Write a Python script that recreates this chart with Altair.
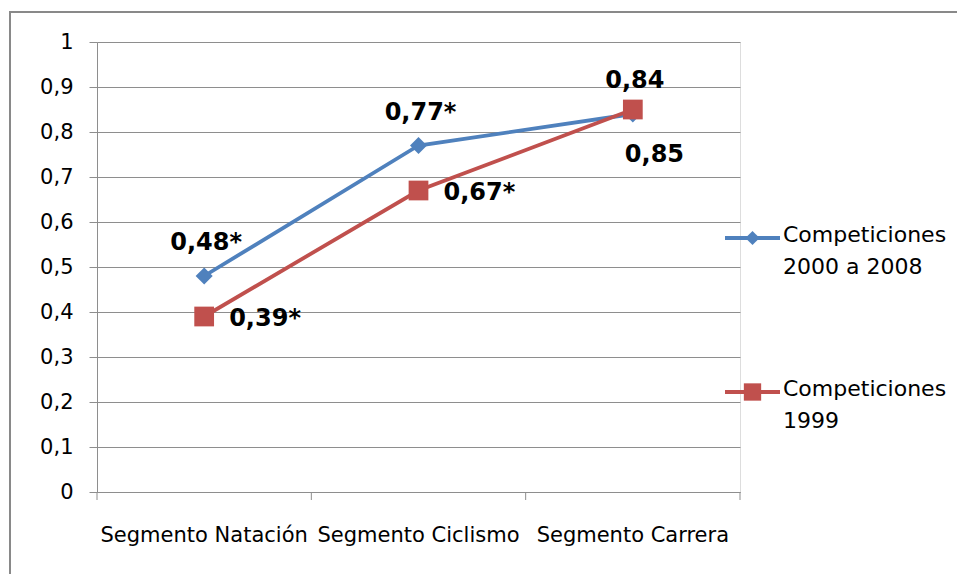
import altair as alt
import pandas as pd

categories = ["Segmento Natación", "Segmento Ciclismo", "Segmento Carrera"]
series_names = ["Competiciones 2000 a 2008", "Competiciones 1999"]
values_2000_2008 = [0.48, 0.77, 0.84]
values_1999 = [0.39, 0.67, 0.85]
labels_2000_2008 = ["0,48*", "0,77*", "0,84"]
labels_1999 = ["0,39*", "0,67*", "0,85"]
legend_lines = [["Competiciones", "2000 a 2008"], ["Competiciones", "1999"]]
y_ticks = [0, 0.1, 0.2, 0.3, 0.4, 0.5, 0.6, 0.7, 0.8, 0.9, 1]

BLUE = "#4F81BD"
RED = "#C0504D"
GRID = "#8E8E8E"
FONT = "DejaVu Sans"
W, H = 643, 450

df_a = pd.DataFrame({"cat": categories, "value": values_2000_2008, "label": labels_2000_2008})
df_b = pd.DataFrame({"cat": categories, "value": values_1999, "label": labels_1999})
one = pd.DataFrame({"k": [0]})

xscale = alt.Scale(domain=categories, paddingInner=0, paddingOuter=0)
yscale = alt.Scale(domain=[0, 1], nice=False, zero=True)

x_axis = alt.Axis(title=None, labelAngle=0, ticks=False, labelPadding=32,
                  labelFontSize=21, labelFont=FONT, labelColor="#000000",
                  domainColor=GRID, domainWidth=1, labelLimit=300)
y_axis = alt.Axis(title=None, values=y_ticks, grid=True, gridColor=GRID, gridWidth=1,
                  domainColor=GRID, tickColor=GRID, tickSize=8, labelPadding=16,
                  labelFontSize=21, labelFont=FONT, labelColor="#000000",
                  labelExpr="replace(format(datum.value, '.1~f'), '.', ',')")


def xe(**kw):
    return alt.X("cat:N", scale=xscale, sort=categories, axis=x_axis, **kw)


def ye():
    return alt.Y("value:Q", scale=yscale, axis=y_axis)


line_a = alt.Chart(df_a).mark_line(color=BLUE, strokeWidth=3.8).encode(x=xe(), y=ye())
pts_a = alt.Chart(df_a).mark_point(shape="diamond", filled=True, size=290, color=BLUE, opacity=1).encode(x=xe(), y=ye())
line_b = alt.Chart(df_b).mark_line(color=RED, strokeWidth=3.8).encode(x=xe(), y=ye())
pts_b = alt.Chart(df_b).mark_point(shape="square", filled=True, size=390, color=RED, opacity=1).encode(x=xe(), y=ye())

lab_style = dict(font=FONT, fontWeight="bold", fontSize=24, color="#000000", baseline="middle")
lab_a = alt.Chart(df_a).mark_text(align="center", dx=2, dy=-33, **lab_style).encode(x=xe(), y=ye(), text="label:N")
lab_b1 = alt.Chart(df_b).transform_filter(alt.datum.cat != categories[2]).mark_text(
    align="left", dx=25, dy=2, **lab_style).encode(x=xe(), y=ye(), text="label:N")
lab_b2 = alt.Chart(df_b).transform_filter(alt.datum.cat == categories[2]).mark_text(
    align="left", dx=-8, dy=45, **lab_style).encode(x=xe(), y=ye(), text="label:N")

ticks_x = alt.Chart(df_a).mark_rule(color=GRID, strokeWidth=1).encode(
    x=xe(bandPosition=0), y=alt.value(H), y2=alt.value(H + 8))
tick_end = alt.Chart(df_a).transform_filter(alt.datum.cat == categories[2]).mark_rule(color=GRID, strokeWidth=1).encode(
    x=xe(bandPosition=1), y=alt.value(H), y2=alt.value(H + 8))

border_top = alt.Chart(one).mark_rule(color="#898989", strokeWidth=2).encode(
    x=alt.value(-87), x2=alt.value(870), y=alt.value(-30))
border_left = alt.Chart(one).mark_rule(color="#898989", strokeWidth=2).encode(
    x=alt.value(-87), y=alt.value(-31), y2=alt.value(540))

legend_layers = []
for i, (name, col, shape, size, ly) in enumerate([
        (series_names[0], BLUE, "diamond", 200, 196),
        (series_names[1], RED, "square", 300, 350)]):
    d = pd.DataFrame({"series": [name]})
    legend_layers.append(alt.Chart(d).mark_rule(color=col, strokeWidth=3.8).encode(
        x=alt.value(628), x2=alt.value(683), y=alt.value(ly)))
    legend_layers.append(alt.Chart(d).mark_point(shape=shape, filled=True, size=size, color=col, opacity=1).encode(
        x=alt.value(655.5), y=alt.value(ly)))
    legend_layers.append(alt.Chart(d).mark_text(align="left", baseline="top", font=FONT, fontSize=22,
                                                 lineHeight=32, color="#000000").encode(
        x=alt.value(686), y=alt.value(ly - 13), text=alt.value(legend_lines[i])))

chart = alt.layer(
    line_a, border_top, border_left, line_b, pts_a, pts_b, ticks_x, tick_end,
    lab_a, lab_b1, lab_b2, *legend_layers
).properties(
    width=W, height=H,
    autosize=alt.AutoSizeParams(type="none"),
    padding={"left": 89, "top": 34, "right": 217, "bottom": 82},
    background="#FFFFFF",
).configure_view(strokeWidth=0, stroke="transparent").configure(font=FONT)

chart.save("out.html", embed_options={"renderer": "svg", "actions": False})
